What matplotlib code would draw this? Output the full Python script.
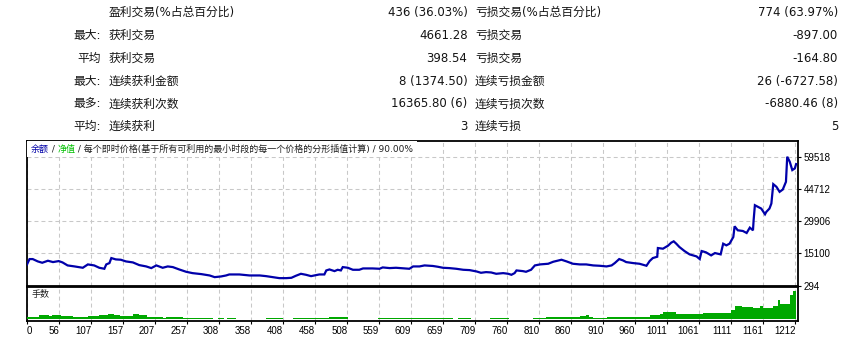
import numpy as np
import matplotlib
matplotlib.use('Agg')
import matplotlib.pyplot as plt
from matplotlib.offsetbox import TextArea, HPacker, AnchoredOffsetbox

# ---------------- data ----------------
row_prefix = ['', '最大:', '平均', '最大:', '最多:', '平均:']
win_labels = ['盈利交易(%占总百分比)', '获利交易', '获利交易', '连续获利金额', '连续获利次数', '连续获利']
win_values = ['436 (36.03%)', '4661.28', '398.54', '8 (1374.50)', '16365.80 (6)', '3']
loss_labels = ['亏损交易(%占总百分比)', '亏损交易', '亏损交易', '连续亏损金额', '连续亏损次数', '连续亏损']
loss_values = ['774 (63.97%)', '-897.00', '-164.80', '26 (-6727.58)', '-6880.46 (8)', '5']

bal_trades = [0, 4, 9, 17, 24, 33, 41, 50, 56, 64, 75, 88, 96, 106, 114, 122, 125, 130, 133, 140,
              148, 156, 167, 177, 188, 196, 204, 214, 222, 230, 240, 251, 261, 275, 288, 296, 306, 314,
              319, 335, 351, 367, 377, 388, 398, 409, 417, 424, 432, 440, 448, 453, 461, 469, 472, 477,
              485, 490, 495, 498, 506, 514, 524, 530, 545, 556, 561, 572, 582, 603, 609, 619, 627, 640,
              648, 656, 666, 677, 688, 698, 709, 716, 724, 732, 740, 751, 759, 764, 769, 772, 782, 787,
              795, 801, 809, 822, 830, 843, 851, 861, 872, 882, 893, 903, 914, 922, 927, 934, 940, 945,
              956, 966, 977, 982, 987, 994, 995, 1003, 1011, 1016, 1020, 1024, 1029, 1037, 1045, 1056,
              1061, 1064, 1066, 1071, 1079, 1085, 1094, 1098, 1103, 1108, 1114, 1116, 1121, 1129, 1135,
              1140, 1145, 1146, 1148, 1153, 1158, 1164, 1166, 1171, 1174, 1177, 1182, 1187, 1192, 1197,
              1199, 1203, 1207, 1211, 1213]
bal_values = [10000, 12480, 12480, 11400, 10783, 11709, 11092, 11555, 10938, 9549, 9087, 8470, 10012,
              9549, 8470, 8007, 10012, 10629, 12943, 12326, 12172, 11400, 10938, 9704, 9087, 8316, 9549,
              8470, 9087, 8779, 7699, 6619, 6002, 5540, 4923, 4152, 4460, 4923, 5385, 5385, 4923, 4923,
              4614, 4152, 3689, 3689, 3843, 4769, 5694, 5232, 4614, 4923, 5385, 5385, 7236, 7699, 6928,
              7545, 7236, 8779, 8470, 7545, 7545, 8162, 8162, 8007, 8625, 8316, 8470, 8007, 9087, 9087,
              9549, 9300, 8933, 8470, 8316, 8007, 7545, 7391, 6773, 6156, 6465, 6311, 5694, 6002, 5694,
              5232, 6002, 7236, 6928, 6619, 7545, 9549, 10012, 10320, 11246, 12172, 11400, 10320, 10012,
              10012, 9549, 9395, 9087, 9549, 10629, 12480, 11863, 11092, 10629, 10320, 9395, 11555, 12943,
              13560, 17570, 17261, 18650, 20038, 20655, 19575, 18032, 16182, 14640, 13714, 12480, 16182,
              16027, 15564, 14176, 15256, 14640, 19575, 18804, 19575, 22659, 27595, 25744, 25435, 24510,
              26978, 25744, 30371, 37311, 36540, 35769, 33147, 34227, 35769, 38082, 47028, 45794, 43481,
              44560, 48107, 59674, 57361, 53505, 54276, 56281]

vol_edges = [0, 19, 35, 40, 54, 61, 72, 88, 96, 114, 127, 138, 146, 167, 177, 190, 201, 214, 219, 246,
             256, 280, 293, 302, 310, 315, 330, 377, 403, 419, 446, 477, 506, 553, 672, 680, 700, 730,
             760, 770, 798, 819, 845, 872, 882, 887, 892, 914, 929, 956, 982, 998, 1003, 1024, 1040,
             1066, 1093, 1111, 1116, 1127, 1145, 1156, 1161, 1177, 1184, 1187, 1192, 1203, 1208, 1213]
vol_values = [0.2, 0.4, 0.3, 0.4, 0.3, 0.35, 0.25, 0.2, 0.35, 0.4, 0.5, 0.4, 0.35, 0.5, 0.45, 0.2, 0.25,
              0.15, 0.25, 0.15, 0.1, 0.15, 0, 0.1, 0, 0.1, 0.05, 0.15, 0, 0.1, 0.15, 0.25, 0, 0.1, 0,
              0.08, 0, 0.08, 0, 0.05, 0.15, 0.2, 0.25, 0.35, 0.45, 0.25, 0.1, 0.2, 0.25, 0.25, 0.4, 0.5,
              0.7, 0.55, 0.55, 0.65, 0.65, 0.95, 1.35, 1.2, 1.15, 1.3, 1.15, 1.3, 1.95, 1.55, 1.5, 2.45,
              2.85]

x_tick_labels = ['0', '56', '107', '157', '207', '257', '308', '358', '408', '458', '508', '559', '609',
                 '659', '709', '760', '810', '860', '910', '960', '1011', '1061', '1111', '1161', '1212']
y_ticks = [294, 15100, 29906, 44712, 59518]

title_parts = [('余额', '#0000A8'), (' / ', '#202020'), ('净值', '#00C000'),
               (' / 每个即时价格(基于所有可利用的最小时段的每一个价格的分形插值计算) / 90.00%', '#202020')]
vol_label = '手数'

# ---------------- layout ----------------
W, H = 844, 339
FAM = ['DejaVu Sans', 'Noto Sans CJK SC']
TICKFAM = ['Liberation Sans', 'DejaVu Sans']
fig = plt.figure(figsize=(W / 100, H / 100), dpi=100)
fig.patch.set_facecolor('white')

def fx(px):
    return px / W

def fy(py):
    return 1 - py / H

# top table
row_y0, row_dy = 12.5, 22.85
txtcol = '#141414'
for i in range(6):
    y = fy(row_y0 + i * row_dy)
    kw = dict(fontsize=8.5, family=FAM, color=txtcol, va='center')
    if row_prefix[i]:
        fig.text(fx(101), y, row_prefix[i], ha='right', **kw)
    fig.text(fx(109), y, win_labels[i], ha='left', **kw)
    fig.text(fx(467.5), y, win_values[i], ha='right', **kw)
    fig.text(fx(475), y, loss_labels[i], ha='left', **kw)
    fig.text(fx(838), y, loss_values[i], ha='right', **kw)

# axes
left, right = 27, 798
ax = fig.add_axes([fx(left), fy(285.5), fx(right - left), (285.5 - 141) / H])
axv = fig.add_axes([fx(left), fy(320.7), fx(right - left), (320.7 - 287.3) / H])

x_max = 1216
step = 1212 / (len(x_tick_labels) - 1)
xt = [i * step for i in range(len(x_tick_labels))]
grid_kw = dict(color='#C8C8C8', linewidth=0.75, linestyle=(0, (3.8, 2.9)))

# main chart
ax.set_xlim(0, x_max)
y_lo = y_ticks[0]
y_hi = y_ticks[0] + 4.5 * (y_ticks[1] - y_ticks[0])
ax.set_ylim(y_lo, y_hi)
ax.set_xticks(xt)
ax.set_yticks(y_ticks)
ax.set_yticklabels([str(v) for v in y_ticks], fontsize=7, family=TICKFAM)
ax.yaxis.tick_right()
ax.tick_params(axis='y', direction='out', length=2.5, width=0.8, pad=1.5, colors='black')
ax.tick_params(axis='x', length=0, labelbottom=False)
ax.grid(True, **grid_kw)
ax.set_axisbelow(True)
ax.plot(bal_trades, bal_values, color='#0000AA', linewidth=1.6, solid_joinstyle='miter', zorder=3)
for s in ax.spines.values():
    s.set_linewidth(1.3)
    s.set_color('black')

# colored title with white background
areas = [TextArea(t, textprops=dict(color=c, fontsize=6.5, family=FAM)) for t, c in title_parts]
pack = HPacker(children=areas, align='baseline', pad=0, sep=0)
anch = AnchoredOffsetbox(loc='upper left', child=pack, pad=0.35, borderpad=0.05, frameon=True,
                         prop=dict(size=6.5))
anch.patch.set_facecolor('white')
anch.patch.set_edgecolor('none')
anch.patch.set_boxstyle('square', pad=0)
anch.set_zorder(4)
ax.add_artist(anch)

# volume chart
axv.set_xlim(0, x_max)
axv.set_ylim(-0.14, 3.2)
axv.stairs(vol_values, vol_edges, fill=True, color='#00A800', baseline=0, zorder=3)
axv.set_xticks(xt)
axv.set_xticklabels(x_tick_labels, fontsize=7, family=TICKFAM)
for k, lab in enumerate(axv.get_xticklabels()):
    lab.set_ha('left' if k == 0 else 'right')
axv.tick_params(axis='x', direction='out', length=2, width=0.8, pad=1.5, colors='black')
axv.set_yticks([])
axv.grid(True, axis='x', **grid_kw)
axv.set_axisbelow(True)
for s in axv.spines.values():
    s.set_linewidth(1.3)
    s.set_color('black')
axv.text(0.006, 0.78, vol_label, transform=axv.transAxes, fontsize=6.5, family=FAM,
         color='#202020', va='center', ha='left')

fig.savefig('out.png', dpi=100, facecolor='white')
